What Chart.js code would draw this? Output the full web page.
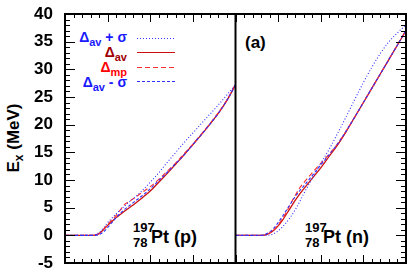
<!DOCTYPE html>
<html>
<head>
<meta charset="utf-8">
<script src="https://cdn.jsdelivr.net/npm/chart.js@4"></script>
<style>
  body { margin: 0; background: #fff; }
  #wrap { position: relative; width: 415px; height: 274px; overflow: hidden;
          font-family: "Liberation Sans", Arial, sans-serif; font-weight: bold; }
  canvas { position: absolute; left: 0; top: 0; }
  .t { position: absolute; white-space: nowrap; line-height: 1; }
  .leg { font-size: 14px; text-align: right; right: 288px; }
  .leg sub { font-size: 11px; vertical-align: -4px; line-height: 0; }
  .ytitle { font-size: 17px; left: 13px; top: 138px; transform: translate(-50%, -50%) rotate(-90deg); }
  .ytitle sub { font-size: 12px; vertical-align: -4px; line-height: 0; }
  .num { font-size: 13px; }
  .nuc { font-size: 18px; }
</style>
</head>
<body>
<div id="wrap">
  <div class="t ytitle">E<sub>x</sub> (MeV)</div>

  <div class="t leg" style="top:30px;color:#1a1aff">Δ<sub>av</sub> + σ</div>
  <div class="t leg" style="top:45px;color:#a00000">Δ<sub>av</sub></div>
  <div class="t leg" style="top:60px;color:#ff0000">Δ<sub>mp</sub></div>
  <div class="t leg" style="top:75px;color:#1a1aff">Δ<sub>av</sub> - σ</div>
  <svg style="position:absolute;left:137px;top:33px" width="40" height="52">
    <line x1="0" y1="5.5" x2="38" y2="5.5" stroke="#3030ff" stroke-width="1.2" stroke-dasharray="1,2"/>
    <line x1="0" y1="19.5" x2="38" y2="19.5" stroke="#cc1010" stroke-width="1.2"/>
    <line x1="0" y1="34.5" x2="38" y2="34.5" stroke="#ff3030" stroke-width="1.2" stroke-dasharray="5,3"/>
    <line x1="0" y1="48.5" x2="38" y2="48.5" stroke="#3030ff" stroke-width="1.2" stroke-dasharray="3,2"/>
  </svg>

  <div class="t" style="left:245px;top:34px;font-size:17px">(a)</div>

  <div class="t num" style="left:133px;top:221px">197</div>
  <div class="t num" style="left:133px;top:236px">78</div>
  <div class="t nuc" style="left:151px;top:228px">Pt (p)</div>

  <div class="t num" style="left:305px;top:221px">197</div>
  <div class="t num" style="left:305px;top:236px">78</div>
  <div class="t nuc" style="left:323px;top:228px">Pt (n)</div>

  <canvas id="data" width="415" height="274"></canvas>
  <canvas id="axes" width="415" height="274"></canvas>
</div>

<script>
// x grid within one panel (arbitrary units, the axis has no labels)
const xGrid = [0, 1, 2, 3, 3.5, 4, 4.5, 5, 5.5, 6, 6.5, 7, 7.5, 8, 9, 10, 11, 12, 13, 14, 15, 16, 17, 18, 19, 20];
const panelWidth = 20;   // right panel sits after the left one on the same x scale

// 197Pt (p)
const avP      = [0, 0, 0, 0, 0.05, 0.3, 1.0, 1.8, 2.5, 3.2, 3.8, 4.4, 4.95, 5.5, 6.7, 8.0, 9.6, 11.2, 12.9, 14.6, 16.4, 18.2, 20.1, 22.1, 24.4, 27.2];
const avPlusP  = [0, 0, 0, 0, 0.1, 0.5, 1.3, 2.3, 3.1, 3.9, 4.6, 5.3, 6.0, 6.6, 8.0, 9.6, 11.3, 13.2, 15.0, 16.8, 18.5, 20.2, 21.9, 23.6, 25.4, 27.2];
const mpP      = [0, 0, 0, 0, 0.05, 0.3, 1.1, 2.0, 2.8, 3.6, 4.6, 5.6, 6.1, 6.6, 7.7, 8.8, 10.1, 11.6, 13.1, 14.8, 16.5, 18.3, 20.2, 22.2, 24.5, 27.3];
const avMinusP = [0, 0, 0, 0, 0, 0.15, 0.6, 1.4, 2.3, 3.2, 4.0, 4.7, 5.3, 5.9, 7.1, 8.4, 9.9, 11.4, 13.0, 14.6, 16.4, 18.2, 20.1, 22.1, 24.4, 27.2];

// 197Pt (n)
const avN      = [0, 0, 0, 0, 0.1, 0.4, 0.9, 1.7, 2.7, 3.9, 5.1, 6.3, 7.4, 8.4, 10.3, 12.2, 14.3, 16.4, 18.8, 21.4, 24.0, 26.6, 29.2, 31.8, 34.4, 37.0];
const avPlusN  = [0, 0, 0, 0, 0, 0.05, 0.3, 0.8, 1.5, 2.4, 3.4, 4.6, 6.0, 7.5, 10.3, 13.0, 15.6, 18.5, 21.5, 24.6, 27.6, 30.4, 32.9, 35.0, 36.6, 38.0];
const mpN      = [0, 0, 0, 0, 0.1, 0.4, 1.0, 1.9, 3.0, 4.3, 5.8, 7.2, 8.5, 9.5, 11.3, 13.0, 14.7, 16.6, 18.9, 21.4, 24.0, 26.6, 29.2, 31.8, 34.4, 37.1];
const avMinusN = [0, 0, 0, 0, 0.2, 0.6, 1.3, 2.3, 3.4, 4.6, 5.8, 7.0, 8.0, 8.9, 10.8, 12.7, 14.6, 16.6, 18.9, 21.4, 24.0, 26.6, 29.2, 31.8, 34.4, 37.0];

const xMin = 0, xMax = 2 * panelWidth;
const yMin = -5, yMax = 40, yStep = 5;

const pts = (ys, off) => ys.map((y, i) => ({ x: xGrid[i] + off, y }));

function series(av, plus, mp, minus, off) {
  const common = { pointRadius: 0, borderWidth: 1.1, cubicInterpolationMode: 'monotone', fill: false };
  return [
    { ...common, data: pts(plus, off), borderColor: '#3030ff', borderDash: [1, 2] },
    { ...common, data: pts(minus, off), borderColor: '#3030ff', borderDash: [3, 2] },
    { ...common, data: pts(mp, off), borderColor: '#ff3030', borderDash: [5, 3] },
    { ...common, data: pts(av, off), borderColor: '#cc1010', borderWidth: 1.3 },
  ];
}

// frame, panel divider and inward ticks, ROOT style
const frame = {
  id: 'frame',
  afterDraw(chart) {
    const { ctx, chartArea: a, scales: { x, y } } = chart;
    ctx.save();
    ctx.setLineDash([]);
    ctx.strokeStyle = '#000';
    ctx.lineWidth = 1;
    ctx.beginPath();
    for (let v = xMin; v <= xMax; v++) {
      const px = Math.round(x.getPixelForValue(v)) + 0.5;
      const len = v % 5 === 0 ? 8 : 4;
      ctx.moveTo(px, a.bottom); ctx.lineTo(px, a.bottom - len);
      ctx.moveTo(px, a.top); ctx.lineTo(px, a.top + len);
    }
    for (let v = yMin; v <= yMax; v++) {
      const py = Math.round(y.getPixelForValue(v)) + 0.5;
      const len = v % 5 === 0 ? 10 : 5;
      ctx.moveTo(a.left, py); ctx.lineTo(a.left + len, py);
      ctx.moveTo(a.right, py); ctx.lineTo(a.right - len, py);
    }
    ctx.stroke();
    ctx.lineWidth = 2;
    ctx.strokeRect(a.left, a.top, a.right - a.left, a.bottom - a.top);
    const mid = x.getPixelForValue(panelWidth);
    ctx.beginPath();
    ctx.moveTo(mid, a.top); ctx.lineTo(mid, a.bottom);
    ctx.stroke();
    ctx.restore();
  }
};

// same layout for both layers so their chart areas coincide
function options(labelColor) {
  return {
    responsive: false,
    animation: false,
    devicePixelRatio: 1,
    events: [],
    layout: { padding: { top: 14, right: 9, bottom: 0, left: 0 } },
    plugins: { legend: { display: false }, tooltip: { enabled: false } },
    scales: {
      x: {
        type: 'linear', min: xMin, max: xMax,
        ticks: { display: false },
        grid: { display: false, drawTicks: false },
        border: { display: false },
        afterFit: s => { s.height = 11; s.paddingLeft = 0; s.paddingRight = 0; }
      },
      y: {
        type: 'linear', min: yMin, max: yMax,
        ticks: {
          stepSize: yStep, padding: 12, color: labelColor,
          font: { family: '"Liberation Sans", Arial, sans-serif', size: 17, weight: 'bold' }
        },
        grid: { display: false, drawTicks: false },
        border: { display: false },
        afterFit: s => { s.width = 65; s.paddingTop = 0; s.paddingBottom = 0; }
      }
    }
  };
}

// curves layer
new Chart(document.getElementById('data'), {
  type: 'line',
  data: {
    datasets: [
      ...series(avP, avPlusP, mpP, avMinusP, 0),
      ...series(avN, avPlusN, mpN, avMinusN, panelWidth)
    ]
  },
  options: options('rgba(0,0,0,0)')
});

// axes layer on top: frame, ticks and tick labels
new Chart(document.getElementById('axes'), {
  type: 'line',
  data: { datasets: [] },
  plugins: [frame],
  options: options('#000')
});
</script>
</body>
</html>
